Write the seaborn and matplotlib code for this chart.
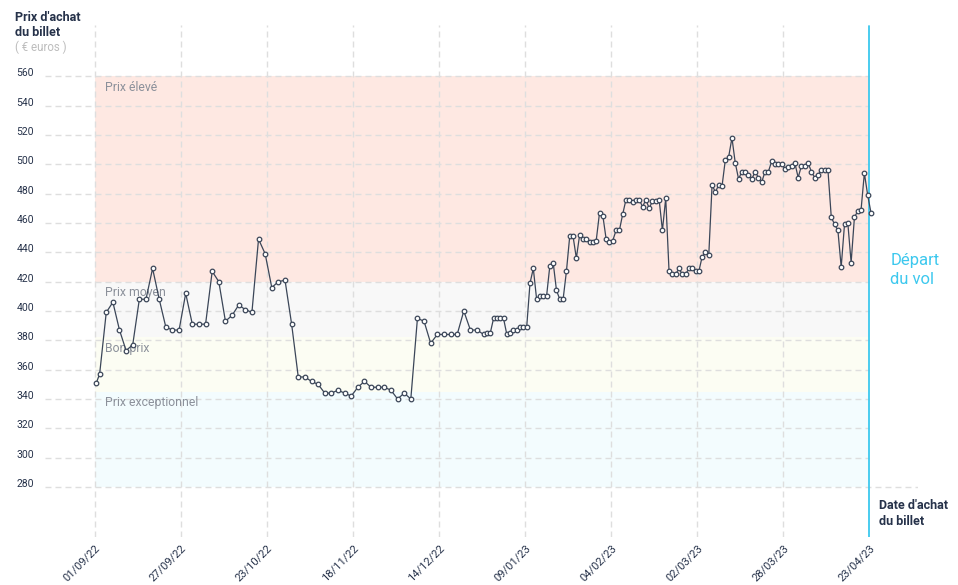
import pandas as pd
import numpy as np
import matplotlib
matplotlib.use("Agg")
import matplotlib.pyplot as plt
import matplotlib.dates as mdates
import seaborn as sns

# --- DATA ---
START = "2022-09-01"
days = [0, 1, 3, 5, 7, 9, 11, 13, 15, 17, 19, 21, 23, 25, 27, 29, 31, 33, 35, 37,
        39, 41, 43, 45, 47, 49, 51, 53, 55, 57, 59, 61, 63, 65, 67, 69, 71, 73, 75, 77,
        79, 81, 83, 85, 87, 89, 91, 93, 95, 97, 99, 101, 103, 105, 107, 109, 111, 113, 115,
        117, 118, 119, 120, 121, 122, 123, 124, 125, 126, 127, 128, 129, 130, 131, 132,
        133, 134, 135, 136, 137, 138, 139, 140, 141, 142, 143, 144, 145, 146, 147, 148,
        149, 150, 151, 152, 153, 154, 155, 156, 157, 158, 159, 160, 161, 162, 163, 164,
        165, 166, 167, 168, 169, 170, 171, 172, 173, 174, 175, 176, 177, 178, 179, 180,
        181, 182, 183, 184, 185, 186, 187, 188, 189, 190, 191, 192, 193, 194, 195, 196,
        197, 198, 199, 200, 201, 202, 203, 204, 205, 206, 207, 208, 209, 210, 211, 212,
        213, 214, 215, 216, 217, 218, 219, 220, 221, 222, 223, 224, 225, 226, 227, 228,
        229, 230, 231, 232, 233, 234]
prices = [351, 357, 399, 406, 387, 373, 377, 408, 408, 429, 408, 389, 387, 387, 412, 391, 391, 391, 427, 420,
          393, 397, 404, 401, 399, 449, 439, 416, 420, 421, 391, 355, 355, 352, 350, 344, 344, 346, 344, 342,
          348, 352, 348, 348, 348, 346, 340, 344, 340, 395, 393, 378, 384, 384, 384, 384, 400, 387, 387,
          384, 385, 385, 395, 395, 395, 395, 384, 385, 387, 387, 389, 389, 389, 419, 429,
          408, 410, 410, 410, 431, 433, 414, 408, 408, 427, 451, 451, 436, 452, 449, 449,
          447, 447, 448, 467, 465, 449, 447, 448, 455, 455, 466, 476, 476, 474, 476, 476,
          471, 476, 470, 475, 475, 476, 455, 477, 427, 425, 425, 429, 425, 425, 429, 429,
          427, 427, 437, 440, 438, 486, 481, 486, 485, 503, 505, 518, 501, 490, 495, 495,
          493, 490, 495, 491, 488, 495, 495, 502, 500, 500, 500, 497, 498, 499, 501, 491,
          499, 499, 501, 495, 491, 493, 496, 496, 496, 464, 459, 455, 430, 459, 460, 433,
          464, 468, 469, 494, 479, 467]

tick_days = [0, 26, 52, 78, 104, 130, 156, 182, 208, 234]
y_ticks = [280, 300, 320, 340, 360, 380, 400, 420, 440, 460, 480, 500, 520, 540, 560]

band_names = ["Prix élevé", "Prix moyen", "Bon prix", "Prix exceptionnel"]
band_top = [560, 420, 382, 345]
band_bottom = [420, 382, 345, 280]
band_colors = ["#fee8e2", "#f8f8f8", "#fcfdf3", "#f3fcfe"]

NAVY = "#26324a"
GRID = "#dedede"
CYAN = "#3cc8ee"
DASH = (0, (4.3, 2.9))

start = pd.Timestamp(START)
df = pd.DataFrame({
    "date": start + pd.to_timedelta(days, unit="D") + pd.Timedelta(hours=12),
    "prix": prices,
})
tick_dates = start + pd.to_timedelta(tick_days, unit="D")
end = tick_dates[-1]
x_left = start - pd.Timedelta(days=15)
x_right = start + pd.Timedelta(days=248.7)

# --- FIGURE ---
sns.set_style("white")
plt.rcParams["font.family"] = ["Roboto", "DejaVu Sans"]

fig = plt.figure(figsize=(9.58, 5.85), dpi=100)
ax = fig.add_axes([45 / 958, 1 - 537 / 585, 873 / 958, 512 / 585])

# price bands
for name, top, bot, col in zip(band_names, band_top, band_bottom, band_colors):
    ax.fill_between([start, end], bot, top, color=col, lw=0, zorder=0)
    ax.annotate(name, xy=(start, top), xytext=(7.5, -8), textcoords="offset points",
                ha="left", va="center", fontsize=8.8, color="#8b909a", zorder=3)

# grid
ax.hlines(y_ticks[1:], x_left, end, colors=GRID, linestyles=DASH, lw=1, zorder=1)
ax.hlines(y_ticks[:1], x_left, x_right, colors=GRID, linestyles=DASH, lw=1, zorder=1)
ax.vlines(tick_dates[:-1], 245.9, 595, colors=GRID, linestyles=DASH, lw=1, zorder=1)
ax.axvline(end, ymin=0, ymax=(595 - 0.7 - 245.9) / (595 - 245.9), color=CYAN, lw=1.3, zorder=2)

sns.lineplot(data=df, x="date", y="prix", ax=ax, color="#3b4658", lw=0.9,
             marker="o", markersize=3.3, markerfacecolor="white",
             markeredgecolor="#3b4658", markeredgewidth=0.9, zorder=4)

ax.set_xlim(x_left, x_right)
ax.set_ylim(245.9, 595)
sns.despine(ax=ax, left=True, bottom=True)
ax.set_xlabel("")
ax.set_ylabel("")

ax.set_xticks(tick_dates)
ax.xaxis.set_major_formatter(mdates.DateFormatter("%d/%m/%y"))
ax.tick_params(axis="x", length=0, pad=4, labelsize=8, labelcolor=NAVY)
for lab in ax.get_xticklabels():
    lab.set_rotation(45)
    lab.set_ha("right")
    lab.set_va("top")
    lab.set_rotation_mode("anchor")

ax.set_yticks(y_ticks)
ax.tick_params(axis="y", length=0, pad=20.5, labelsize=7.5, labelcolor=NAVY)
for lab in ax.get_yticklabels():
    lab.set_ha("left")
    lab.set_va("baseline")

# annotations
ax.text(start + pd.Timedelta(days=240.3), 428, "Départ\ndu vol", color=CYAN,
        fontsize=12, ha="left", va="center", linespacing=1.3)
ax.text(start + pd.Timedelta(days=237), 262, "Date d'achat\ndu billet", color=NAVY,
        fontsize=9, fontweight="bold", ha="left", va="center", linespacing=1.25)

fig.text(15 / 958, 1 - 11 / 585, "Prix d'achat\ndu billet", color=NAVY, fontsize=9,
         fontweight="bold", ha="left", va="top", linespacing=1.25)
fig.text(15 / 958, 1 - 47 / 585, "( € euros )", color="#bdbdbd", fontsize=8.3,
         ha="left", va="center")

fig.savefig("out.png", dpi=100)
